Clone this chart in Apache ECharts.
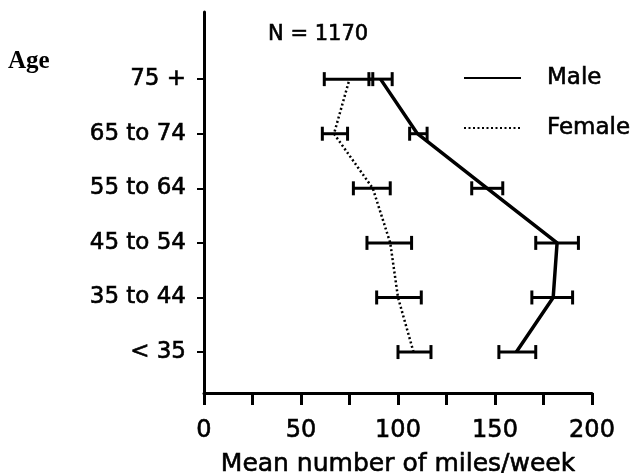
<!DOCTYPE html>
<html>
<head>
<meta charset="utf-8">
<script src="https://cdn.jsdelivr.net/npm/echarts@6/dist/echarts.min.js"></script>
<style>
  html, body { margin: 0; padding: 0; background: #fff; }
  #chart { width: 636px; height: 473px; }
</style>
</head>
<body>
<div id="chart"></div>
<script>
// 年龄组（自下而上）
var ageGroups = ['< 35', '35 to 44', '45 to 54', '55 to 64', '65 to 74', '75 +']
var xTicks = [0, 50, 100, 150, 200]

// 男性均值及误差范围
var maleMean = [161, 180, 182, 146, 110, 91]
var maleLow = [152, 169, 171, 138, 106, 85]
var maleHigh = [171, 190, 193, 154, 115, 97]

// 女性均值及误差范围
var femaleMean = [108, 100, 96, 87, 67, 75]
var femaleLow = [100, 89, 84, 77, 61, 62]
var femaleHigh = [117, 112, 107, 96, 74, 87]

var FONT = 'DejaVu Sans'
// 文字加粗一点，接近扫描效果
var INK = { color: '#000', textBorderColor: '#000', textBorderWidth: 0.6 }

function toPoints(arr) {
  return arr.map(function (v, i) { return [v, i] })
}
function toBars(lo, hi) {
  return lo.map(function (v, i) { return [v, hi[i], i] })
}

/* 误差棒绘制 */
function errorBar(params, api) {
  var y = api.value(2)
  var p1 = api.coord([api.value(0), y])
  var p2 = api.coord([api.value(1), y])
  var h = 7
  var style = { stroke: '#000', lineWidth: 3 }
  return {
    type: 'group',
    children: [
      { type: 'line', shape: { x1: p1[0], y1: p1[1], x2: p2[0], y2: p2[1] }, style: style },
      { type: 'line', shape: { x1: p1[0], y1: p1[1] - h, x2: p1[0], y2: p1[1] + h }, style: style },
      { type: 'line', shape: { x1: p2[0], y1: p2[1] - h, x2: p2[0], y2: p2[1] + h }, style: style }
    ]
  }
}

var myChart = echarts.init(document.getElementById('chart'), null, { renderer: 'canvas' })

myChart.setOption({
  backgroundColor: '#fff',
  animation: false,
  textStyle: { fontFamily: FONT, color: '#000' },
  grid: { left: 204, right: 44, top: 12, bottom: 80, containLabel: false, outerBoundsMode: 'none' },
  legend: {
    orient: 'vertical',
    left: 463,
    top: 62,
    padding: 0,
    itemWidth: 57,
    itemHeight: 24,
    itemGap: 18,
    itemStyle: { opacity: 0 },
    textStyle: Object.assign({ fontFamily: FONT, fontSize: 23, lineHeight: 24, padding: [8, 0, 0, 21] }, INK),
    data: ['Male', 'Female']
  },
  xAxis: {
    type: 'value',
    min: 0,
    max: 200,
    interval: 25,
    name: 'Mean number of miles/week',
    nameLocation: 'middle',
    nameGap: 59,
    nameTextStyle: Object.assign({ fontFamily: FONT, fontSize: 25 }, INK),
    axisLine: { onZero: false, lineStyle: { color: '#000', width: 3 } },
    axisTick: { length: 12, lineStyle: { color: '#000', width: 3 } },
    axisLabel: Object.assign({
      fontFamily: FONT, fontSize: 24, margin: 26,
      formatter: function (v) { return xTicks.indexOf(v) >= 0 ? String(v) : '' }
    }, INK),
    splitLine: { show: false }
  },
  yAxis: {
    type: 'value',
    min: -0.75,
    max: 6.23,
    axisLine: { show: true, onZero: false, lineStyle: { color: '#000', width: 3 } },
    axisTick: {
      show: true, length: 7,
      customValues: [0, 1, 2, 3, 4, 5],
      lineStyle: { color: '#000', width: 2 }
    },
    axisLabel: Object.assign({
      fontFamily: FONT, fontSize: 23, margin: 18,
      customValues: [0, 1, 2, 3, 4, 5],
      formatter: function (v) { return ageGroups[Math.round(v)] }
    }, INK),
    splitLine: { show: false }
  },
  graphic: [
    {
      type: 'text', x: 8, y: 62,
      style: { text: 'Age', fontFamily: 'Liberation Serif', fontWeight: 'bold', fontSize: 25, fill: '#000', verticalAlign: 'middle' }
    },
    {
      type: 'text', x: 268, y: 35,
      style: { text: 'N = 1170', fontFamily: FONT, fontSize: 21, fill: '#000', stroke: '#000', lineWidth: 0.6, verticalAlign: 'middle' }
    }
  ],
  series: [
    {
      name: 'Male',
      type: 'line',
      data: toPoints(maleMean),
      symbol: 'none',
      lineStyle: { color: '#000', width: 3.5, type: 'solid' },
      itemStyle: { color: '#000' },
      z: 3
    },
    {
      name: 'Female',
      type: 'line',
      data: toPoints(femaleMean),
      symbol: 'none',
      lineStyle: { color: '#000', width: 2.5, type: [2, 2.5] },
      itemStyle: { color: '#000' },
      z: 3
    },
    {
      type: 'custom',
      renderItem: errorBar,
      data: toBars(maleLow, maleHigh),
      z: 4
    },
    {
      type: 'custom',
      renderItem: errorBar,
      data: toBars(femaleLow, femaleHigh),
      z: 4
    }
  ]
})
</script>
</body>
</html>
